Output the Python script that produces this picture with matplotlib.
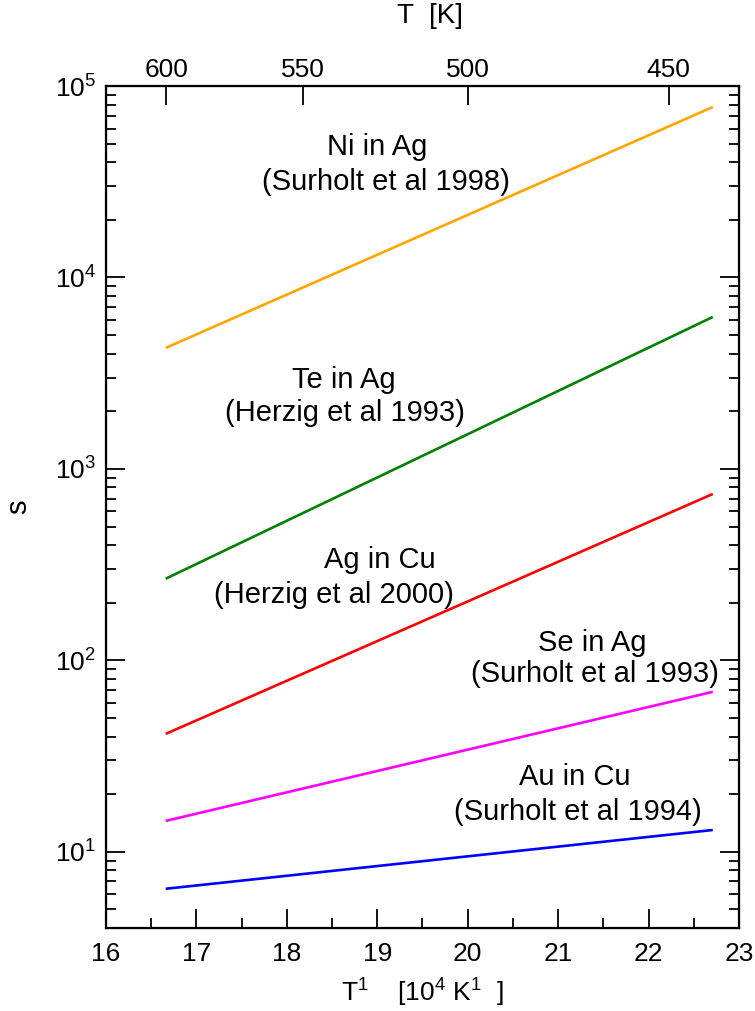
import matplotlib.pyplot as plt
import numpy as np

plt.rcParams['font.family'] = ['Liberation Sans', 'DejaVu Sans']
plt.rcParams['mathtext.fontset'] = 'custom'
plt.rcParams['mathtext.rm'] = 'Liberation Sans'
plt.rcParams['mathtext.it'] = 'Liberation Sans'
plt.rcParams['font.size'] = 19

# inverse temperature [1e-4 K^-1], line end points
x_ends = [16.66, 22.71]

ni_ag = [4285, 77700]
te_ag = [267, 6220]
ag_cu = [41.3, 740]
se_ag = [14.5, 68.5]
au_cu = [6.41, 13.0]

series = [
    (ni_ag, "#FFA500", "Ni in Ag", "(Surholt et al 1998)"),
    (te_ag, "#008000", "Te in Ag", "(Herzig et al 1993)"),
    (ag_cu, "#FF0000", "Ag in Cu", "(Herzig et al 2000)"),
    (se_ag, "#FF00FF", "Se in Ag", "(Surholt et al 1993)"),
    (au_cu, "#0000FF", "Au in Cu", "(Surholt et al 1994)"),
]

# label positions in axes fraction
label_pos = [
    ((0.429, 0.928), (0.442, 0.886)),
    ((0.376, 0.651), (0.378, 0.612)),
    ((0.433, 0.437), (0.360, 0.395)),
    ((0.768, 0.338), (0.773, 0.302)),
    ((0.741, 0.179), (0.746, 0.138)),
]

top_T = [600, 550, 500, 450]

fig = plt.figure(figsize=(7.55, 10.11), dpi=100)
ax = fig.add_axes([0.1404, 0.0821, 0.8384, 0.8328])

for (vals, col, name, ref), (p1, p2) in zip(series, label_pos):
    ax.plot(x_ends, vals, color=col, lw=1.9, solid_capstyle='butt')
    ax.text(p1[0], p1[1], name, transform=ax.transAxes, ha='center', va='center', fontsize=21)
    ax.text(p2[0], p2[1], ref, transform=ax.transAxes, ha='center', va='center', fontsize=21)

ax.set_yscale('log')
ax.set_xlim(16, 23)
ax.set_ylim(4.0, 1e5)
ax.set_xticks(np.arange(16, 24, 1))
ax.set_xticks(np.arange(16.5, 23, 1), minor=True)
ax.set_yticks([1e1, 1e2, 1e3, 1e4, 1e5])
ax.set_yticklabels(['$10^{1}$', '$10^{2}$', '$10^{3}$', '$10^{4}$', '$10^{5}$'])
ax.tick_params(which='both', direction='in', right=True, width=1.3)
ax.tick_params(which='major', length=14, labelsize=19, pad=7)
ax.tick_params(which='minor', length=7)
ax.tick_params(axis='x', which='both', top=False, pad=10)
for s in ax.spines.values():
    s.set_linewidth(1.6)

ax.set_xlabel('T$^{1}$    [10$^{4}$ K$^{1}$  ]', fontsize=19, labelpad=8)
ax.set_ylabel('s', fontsize=21, labelpad=16)

ax2 = ax.twiny()
ax2.set_xlim(16, 23)
ax2.set_xticks([1e4 / t for t in top_T])
ax2.set_xticklabels([str(t) for t in top_T])
ax2.xaxis.set_minor_locator(plt.NullLocator())
ax2.tick_params(direction='in', length=14, width=1.3, labelsize=19, pad=3)
ax2.set_xlabel('T  [K]', fontsize=20)
ax2.xaxis.set_label_coords(0.512, 1.075)

plt.savefig("out.png", dpi=100)
